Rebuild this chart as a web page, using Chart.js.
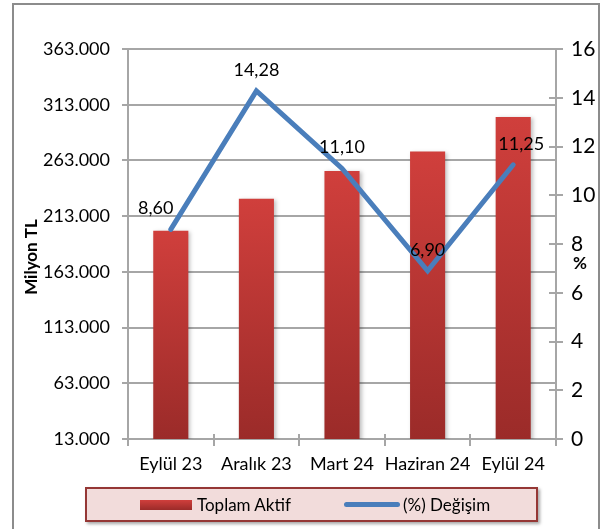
<!DOCTYPE html>
<html>
<head>
<meta charset="utf-8">
<script src="https://cdn.jsdelivr.net/npm/chart.js@4.4.1/dist/chart.umd.min.js"></script>
<style>
  body { margin: 0; background: #fff; }
  #wrap { position: relative; width: 601px; height: 529px; overflow: hidden; }
  #frame { position: absolute; left: 12px; top: 3px; width: 584px; height: 560px; border: 2px solid #8c8c8c; }
  canvas { position: absolute; left: 0; top: 0; }
  #legend {
    position: absolute; left: 85px; top: 487px; width: 449px; height: 31px;
    background: #f2dcdb; border: 2px solid #953735;
    box-shadow: 2px 2px 3px rgba(0, 0, 0, 0.35);
    font-family: Lato, sans-serif; font-size: 17px; color: #000;
  }
  #legend span { position: absolute; top: 5px; }
  .sw-bar { position: absolute; left: 53px; top: 11px; width: 52px; height: 10px;
    background: linear-gradient(#d03f3c, #9b2b29); }
  .sw-line { position: absolute; left: 257px; top: 13px; width: 56px; height: 5px;
    border-radius: 3px; background: #4a7ebb; }
</style>
</head>
<body>
<div id="wrap">
  <div id="frame"></div>
  <canvas id="chart" width="601" height="529"></canvas>
  <div id="legend">
    <div class="sw-bar"></div><span style="left:110px">Toplam Aktif</span>
    <div class="sw-line"></div><span style="left:316px">(%) Değişim</span>
  </div>
</div>
<script>
const categories = ["Eylül 23", "Aralık 23", "Mart 24", "Haziran 24", "Eylül 24"];
const toplamAktif = [200000, 228500, 253500, 271000, 302000];
const degisim = [8.60, 14.28, 11.10, 6.90, 11.25];
const leftTicks = [13000, 63000, 113000, 163000, 213000, 263000, 313000, 363000];
const rightTicks = [0, 2, 4, 6, 8, 10, 12, 14, 16];
const labelNudge = [-15, 0, 0, 0, 8];

const axisGray = "#a6a6a6";

function fmtThousands(v) {
  return String(v).replace(/\B(?=(\d{3})+(?!\d))/g, ".");
}

function barGradient(ctx) {
  const chart = ctx.chart;
  const y = chart.scales.y;
  if (!y || !ctx.parsed) return "#c0392b";
  const top = y.getPixelForValue(ctx.parsed.y);
  const bottom = y.bottom;
  if (!isFinite(top) || !isFinite(bottom) || top === bottom) return "#c0392b";
  const g = chart.ctx.createLinearGradient(0, top, 0, bottom);
  g.addColorStop(0, "#d03f3c");
  g.addColorStop(1, "#9b2b29");
  return g;
}

const extras = {
  id: "extras",
  beforeDatasetDraw(chart, args) {
    if (args.index === 1) {
      const c = chart.ctx;
      c.save();
      c.shadowColor = "rgba(0,0,0,0.25)";
      c.shadowBlur = 4;
      c.shadowOffsetX = 2;
      c.shadowOffsetY = 1;
    }
  },
  afterDatasetDraw(chart, args) {
    if (args.index === 1) chart.ctx.restore();
  },
  afterDraw(chart) {
    const c = chart.ctx;
    const { x, y1 } = chart.scales;
    const area = chart.chartArea;
    c.save();
    c.strokeStyle = axisGray;
    c.lineWidth = 2;
    // crossing tick marks on the right axis
    rightTicks.forEach(v => {
      const py = Math.round(y1.getPixelForValue(v));
      c.beginPath();
      c.moveTo(area.right - 7, py);
      c.lineTo(area.right + 7, py);
      c.stroke();
    });
    // crossing tick marks between categories
    for (let i = 0; i <= categories.length; i++) {
      const px = Math.round(x.getPixelForValue(i - 0.5));
      c.beginPath();
      c.moveTo(px, area.bottom - 5);
      c.lineTo(px, area.bottom + 7);
      c.stroke();
    }
    // data labels for the line
    const meta = chart.getDatasetMeta(0);
    c.fillStyle = "#000";
    c.font = "18px Lato";
    c.textAlign = "center";
    c.textBaseline = "middle";
    meta.data.forEach((pt, i) => {
      c.fillText(degisim[i].toFixed(2).replace(".", ","), pt.x + labelNudge[i], pt.y - 21);
    });
    // axis titles
    c.font = "bold 17px Lato";
    c.save();
    c.translate(32, 257);
    c.rotate(-Math.PI / 2);
    c.fillText("Milyon TL", 0, 0);
    c.restore();
    c.fillText("%", 580, 264);
    c.restore();
  }
};

new Chart(document.getElementById("chart"), {
  data: {
    labels: categories,
    datasets: [
      {
        type: "line",
        label: "(%) Değişim",
        data: degisim,
        yAxisID: "y1",
        borderColor: "#4a7ebb",
        borderWidth: 5,
        borderCapStyle: "round",
        borderJoinStyle: "miter",
        pointRadius: 0,
        tension: 0,
        order: 0
      },
      {
        type: "bar",
        label: "Toplam Aktif",
        data: toplamAktif,
        yAxisID: "y",
        backgroundColor: barGradient,
        categoryPercentage: 1,
        barPercentage: 0.41,
        order: 1
      }
    ]
  },
  options: {
    responsive: false,
    animation: false,
    devicePixelRatio: 1,
    layout: { padding: { top: 49, left: 0, right: 0, bottom: 0 } },
    plugins: { legend: { display: false }, tooltip: { enabled: false } },
    scales: {
      x: {
        grid: { drawOnChartArea: false, drawTicks: false },
        border: { color: axisGray, width: 2 },
        ticks: { color: "#000", font: { family: "Lato", size: 18 }, padding: 14,
          maxRotation: 0, minRotation: 0, autoSkip: false },
        afterFit(s) { s.height = 90; }
      },
      y: {
        position: "left",
        min: leftTicks[0],
        max: leftTicks[leftTicks.length - 1],
        afterBuildTicks(s) { s.ticks = leftTicks.map(v => ({ value: v })); },
        grid: { color: axisGray, lineWidth: 2, tickLength: 6 },
        border: { color: axisGray, width: 2 },
        ticks: { color: "#000", font: { family: "Lato", size: 18 }, padding: 12, callback: v => fmtThousands(v) },
        afterFit(s) { s.width = 128; }
      },
      y1: {
        position: "right",
        min: 0,
        max: 16,
        afterBuildTicks(s) { s.ticks = rightTicks.map(v => ({ value: v })); },
        grid: { drawOnChartArea: false, drawTicks: false },
        border: { color: axisGray, width: 2 },
        ticks: { color: "#000", font: { family: "Lato", size: 21 }, padding: 15 },
        afterFit(s) { s.width = 45; }
      }
    }
  },
  plugins: [extras]
});
</script>
</body>
</html>
